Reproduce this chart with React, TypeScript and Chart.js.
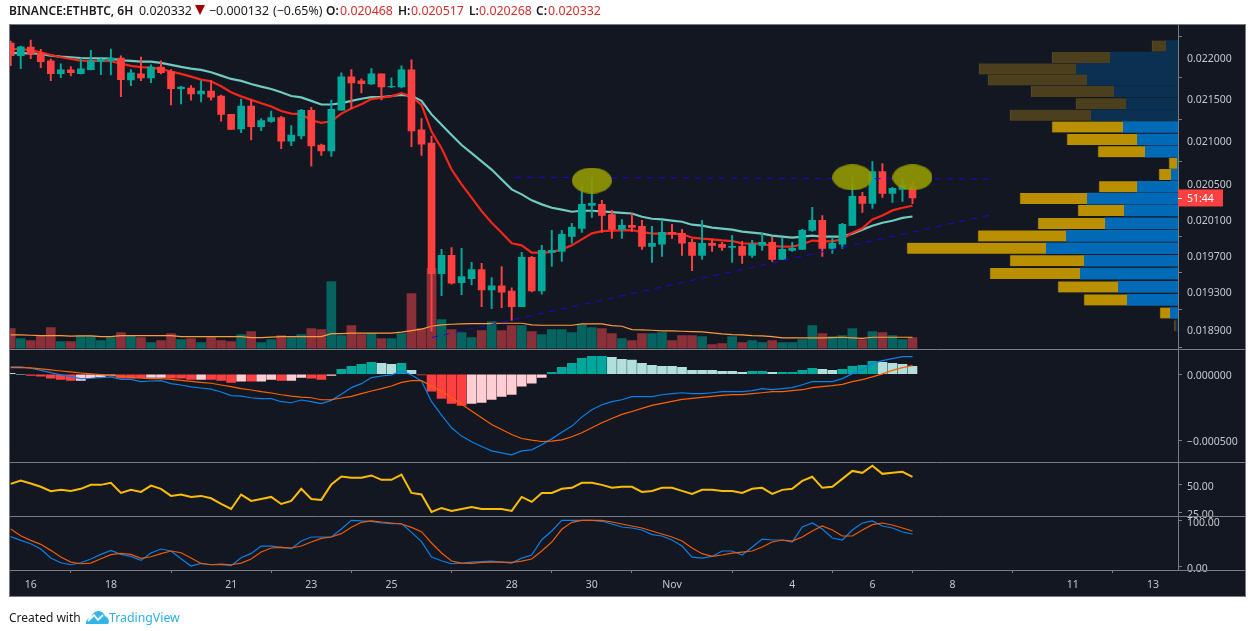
import React, { useEffect, useRef } from "react";
import { Chart, registerables } from "chart.js";
Chart.register(...registerables);

// price series in micro-BTC (1e-6 BTC)
const opens = [22171,22016,22122,22046,21952,21797,21842,21797,21845,21943,21955,21988,21720,21793,21744,21875,21821,21614,21622,21549,21586,21525,21305,21134,21403,21159,21220,21268,20989,21049,21354,20943,20875,21354,21756,21708,21671,21793,21634,21634,21842,21122,20966,19490,19689,19390,19434,19534,19312,19356,19301,19132,19667,19301,19723,19734,19900,19989,20248,20259,20145,19978,20022,20011,19789,19812,19945,19934,19834,19689,19823,19812,19778,19789,19689,19800,19834,19645,19745,19756,19967,20078,19767,19812,20022,20350,20270,20635,20384,20430,20468];
const highs = [22196,22135,22208,22094,21976,21915,21882,21985,22082,21985,22098,22016,21845,22000,21903,21952,21845,21643,21650,21708,21711,21537,21305,21488,21476,21256,21345,21281,21171,21366,21390,20954,21476,21805,21845,21732,21858,21793,21744,21891,21964,21256,21049,19756,19775,19767,19612,19601,19445,19567,19334,19723,19678,19800,19967,19967,20045,20464,20567,20305,20191,20089,20156,20078,20011,20067,20033,19978,19867,20078,19867,19834,19911,19845,19856,19934,19889,19878,19834,19978,20225,20134,19889,20045,20578,20396,20749,20726,20453,20555,20517];
const lows = [21894,21858,21980,21870,21711,21748,21769,21793,21842,21784,21781,21516,21650,21711,21687,21793,21418,21431,21476,21455,21476,21223,21126,21089,21004,21113,21211,20901,20935,21016,20696,20821,20810,21354,21374,21561,21662,21479,21626,21622,20924,20821,18873,19251,19375,19261,19367,19132,19111,19121,18985,19132,19290,19268,19567,19623,19823,19945,20111,19945,19878,19878,19956,19756,19612,19678,19878,19689,19523,19645,19734,19745,19612,19601,19667,19745,19623,19645,19734,19756,19956,19678,19712,19767,20022,20168,20213,20339,20282,20293,20268];
const closes = [22016,22126,22033,21943,21797,21842,21809,21854,21952,21972,21988,21723,21805,21744,21875,21809,21614,21634,21549,21586,21512,21305,21126,21403,21159,21232,21268,20989,21061,21354,20932,20875,21366,21756,21683,21675,21793,21634,21643,21842,21110,20954,19490,19689,19386,19456,19534,19312,19356,19289,19132,19667,19301,19745,19745,19923,20000,20259,20270,20134,19978,20022,20000,19789,19823,19945,19923,19823,19689,19823,19800,19778,19789,19689,19812,19834,19645,19756,19767,19967,20078,19767,19823,20033,20350,20270,20635,20384,20441,20475,20332];
const maFast = [22098,22098,22086,22058,22025,21997,21976,21955,21952,21952,21948,21919,21891,21875,21870,21854,21821,21793,21760,21723,21704,21643,21570,21521,21479,21439,21399,21345,21314,21309,21235,21204,21223,21314,21374,21427,21488,21504,21521,21561,21521,21418,21101,20905,20658,20487,20335,20183,20052,19941,19823,19800,19719,19719,19726,19756,19800,19867,19934,19959,19964,19967,19970,19948,19930,19930,19934,19923,19886,19875,19867,19856,19848,19823,19819,19819,19793,19786,19786,19812,19853,19848,19845,19867,19941,19989,20089,20134,20191,20221,20244];
const maSlow = [22049,22049,22046,22037,22016,22004,21997,21988,21985,21985,21980,21960,21952,21943,21943,21927,21903,21878,21858,21842,21814,21772,21732,21708,21671,21638,21610,21570,21525,21509,21467,21423,21423,21439,21467,21492,21512,21512,21525,21540,21528,21467,21305,21183,21061,20943,20848,20753,20658,20544,20430,20373,20305,20259,20221,20199,20176,20187,20187,20179,20171,20164,20156,20119,20097,20089,20075,20063,20030,20019,19997,19986,19975,19952,19941,19930,19908,19897,19886,19897,19908,19897,19897,19897,19930,19975,20019,20052,20075,20107,20122];
const volumes = [20,10,8,12.7,21,7,7,12.7,12.7,8,11,16,12.7,11,6,8,15,9,10,6,11,8,7,14,17,6,9,13,11,14,20,19,67,13,23,14,15,10,10,15,55,20,80,29,19,16,11,18,27,18,23,23,17,14,19,19,16,24,21,20,15,10,8,15,15,16,8,13,13,12,4,5,12,6,8,6,8,6,6,9,23,15,12,13,20,9,17,16,13,9,11];
const volumeMA = [13.7,13.7,13.3,13,13,13,12.5,12.7,12.7,12,12,13,13,13,13,13,13,12,12,12,12,12,12,12,11,11,11.5,12,12,12,12,12,15,15,15.5,15.5,15.5,15.5,15.5,16.5,18,19.5,22.3,23.7,24.3,24.7,25,25,25,25.3,25.3,25.3,23.7,23.3,23.3,23.3,23.3,24.7,24.7,24.7,23,22.3,19,18.7,18.3,17.7,17.7,17.3,17,16.7,15.7,14.7,14,13.7,13,12.7,12,10.7,10.7,10.7,10.7,10.7,11,11.3,10.7,10.3,11.3,11.3,11.3,11.3,11.3];
// MACD pane in 1e-6
const macdLine = [56,56,46,30,13,-5,-18,-33,-30,-25,-20,-38,-38,-56,-51,-48,-71,-81,-96,-104,-112,-134,-162,-165,-178,-185,-185,-208,-216,-195,-208,-223,-198,-152,-101,-71,-25,-13,-5,25,-5,-51,-208,-310,-406,-469,-512,-548,-581,-596,-611,-581,-573,-535,-490,-439,-393,-325,-269,-231,-208,-193,-170,-170,-170,-155,-147,-140,-147,-147,-140,-132,-132,-132,-124,-109,-117,-109,-101,-79,-56,-56,-56,-33,5,36,81,104,119,134,134];
const macdSignal = [51,51,48,41,33,25,18,10,3,-3,-10,-15,-23,-28,-33,-33,-38,-46,-53,-61,-68,-81,-94,-109,-119,-132,-142,-155,-165,-173,-178,-193,-193,-180,-167,-147,-127,-109,-89,-61,-48,-48,-89,-127,-178,-228,-279,-330,-381,-419,-457,-487,-500,-510,-507,-497,-474,-444,-406,-368,-335,-304,-282,-259,-236,-221,-205,-190,-183,-175,-167,-160,-155,-155,-147,-140,-132,-132,-124,-117,-101,-94,-86,-76,-56,-41,-20,3,30,51,66];
const macdHist = [8,0,-8,-15,-30,-38,-46,-46,-25,-20,-10,-30,-30,-28,-23,-23,-30,-30,-38,-38,-38,-46,-61,-53,-53,-53,-38,-46,-46,-23,-30,-38,-8,38,61,76,91,84,76,84,30,-5,-129,-183,-221,-236,-221,-213,-190,-167,-152,-91,-68,-23,15,53,84,122,137,137,129,114,107,84,68,61,61,53,30,30,30,23,23,15,23,23,15,15,15,30,46,38,30,38,61,68,99,91,84,76,61];
const macdTones = "LLRRRRRPPPPRRRPPRRRPRRRPRPPRPPRRPTTTTLLTLRRRRRPPPPPPPPTTTTTTLLLLLLLLLLLLLLTTLTTTTLLTTTTLLLL";
const rsiValues = [50.6,53.5,50.9,48,44.1,45.3,44.4,46.2,49.7,49.7,51.5,42.6,45.3,43.5,49.1,46.2,40,41.2,39.1,40,37.9,32.9,28.5,41.2,35.6,37.3,39.1,32.9,35.6,46.2,37.3,36.5,50,57.1,55.9,55.9,58,54.1,54.1,58.8,42.6,41.2,25.9,29.4,26.8,28.5,30.3,28.5,28.5,28.5,26.8,39.1,34.7,42.6,42.6,46.2,47.1,51.5,51.5,49.7,47.1,48,48,43.5,44.4,47.1,47.1,44.4,41.8,45.3,45.3,44.4,44.4,42.6,46.2,47.1,41.8,45.3,46.2,53.2,56.8,47.1,48,55,62,60.3,66.5,59.4,60.3,61.2,56.8];
const stochK = [64.5,56.5,49.3,37.7,18.1,8,3.6,8,16,26.1,34.8,26.1,21.7,13,29,37.7,33.4,16.7,0.7,6.5,3.6,3.6,1.5,18.9,28.3,44.2,44.2,41.3,38.4,55.1,63.8,63.8,63.8,81.2,100,98.6,97.9,94.2,92.8,92.8,73.9,53.7,20.3,12.3,5.8,7.2,9.4,10.2,11.6,9.4,7.2,18.1,24.7,58,76.8,100,100,100,100,97.9,92.1,85.5,83.4,79,68.9,66,57.3,44.2,20.3,18.1,21.7,33.4,33.4,24.7,42,59.4,57.3,57.3,52.9,85.5,94.2,81.2,61.6,57.3,79,94.2,98.6,87.7,83.4,74.7,70.3];
const stochD = [81.2,66.7,56.5,47.9,34.8,20.3,9.4,5.8,7.2,16.7,25.4,28.3,26.1,17.4,21,27.6,33.4,29.7,18.1,6.5,3.6,5,3.6,7.2,16,31.2,39.9,41.3,39.9,44.2,52.9,60.9,63.8,71,84.8,95.7,98.6,96.4,94.2,92,84.8,75.4,50.8,29,11.6,7.2,6.5,8.7,9.4,9.4,8.7,11.6,16,33.4,52.9,80.5,95.7,100,100,100,96.4,92,87.7,83.4,76.8,70.3,63.8,55.1,39.9,27.6,21.7,24.7,29,31.2,33.4,42,52.9,57.3,55.1,63.8,76.8,87.7,79,66,66,79,90.6,94.2,89.9,83.4,76.8];
// volume profile rows
const vpPrices = [22135,21994,21854,21720,21580,21433,21295,21155,21008,20865,20730,20600,20460,20325,20190,20045,19905,19768,19630,19490,19345,19205,19065,18930];
const vpUp = [12,68,102,91,64,52,87,55,41,33,1,7,41,91,54,73,112,132,94,98,60,51,8,2];
const vpTotal = [26,126,199,190,147,102,168,126,111,80,9,19,79,158,100,140,200,271,168,188,120,94,18,4];
const vpDimmed = [1,1,1,1,1,1,1,0,0,0,0,0,0,0,0,0,0,0,0,0,0,0,0,1];
// drawings
const levelLine = [{ x: 50.3, y: 20568 }, { x: 98, y: 20548 }];
const trendLine = [{ x: 42.05, y: 18806 }, { x: 98, y: 20145 }];
const ovalMarks = [{ x: 58, y: 20531 }, { x: 84, y: 20568 }, { x: 90, y: 20568 }];
// axis ticks
const priceTicks = [0.022, 0.0215, 0.021, 0.0205, 0.0201, 0.0197, 0.0193, 0.0189];
const macdTicks = [0, -0.0005];
const rsiTicks = [50, 25];
const stochTicks = [100, 0];
const dayTickIndex = [2, 10, 22, 30, 38, 50, 58, 66, 78, 86, 94, 106, 114];
const dayTickLabels = ["16", "18", "21", "23", "25", "28", "30", "Nov", "4", "6", "8", "11", "13"];
// header line
const headerItems: [number, string, string?][] = [
  [9, "BINANCE:ETHBTC, 6H", "b"], [139, "0.020332"], [209, "\u22120.000132"], [273, "(\u22120.65%)"],
  [326, "O:", "b"], [340, "0.020468", "r"], [398, "H:", "b"], [411, "0.020517", "r"],
  [469, "L:", "b"], [479, "0.020268", "r"], [536, "C:", "b"], [548, "0.020332", "r"],
];

const FONT = "'Noto Sans'";
const GRAY = "#787b80";
const BG = "#131722";
const UP = "#00a99a";
const DOWN = "#ff4040";
const U = 1e-6;
const PLOT_LEFT = 9;
const toneColor: Record<string, string> = { R: "#ff4040", P: "#ffcdd2", T: "#00a79a", L: "#b2dfdb" };

function App() {
  const ref = useRef<HTMLCanvasElement>(null);
  useEffect(() => {
    const idx = opens.map((_, i) => i);
    const up = idx.map((i) => closes[i] >= opens[i]);
    const pts = (a: number[], k = 1) => a.map((v, i) => ({ x: i, y: v * k }));
    const oval = document.createElement("canvas");
    oval.width = 40; oval.height = 26;
    const oc = oval.getContext("2d")!;
    oc.fillStyle = "rgba(148,153,0,0.9)";
    oc.beginPath(); oc.ellipse(20, 13, 20, 13, 0, 0, Math.PI * 2); oc.fill();

    const line = (data: any[], yAxisID: string, color: string, width: number, order: number, extra: any = {}) => ({
      type: "line", data, yAxisID, xAxisID: "x", borderColor: color, borderWidth: width, pointRadius: 0, tension: 0, order, ...extra,
    });
    const bar = (data: any[], yAxisID: string, color: any, thick: number, order: number, extra: any = {}) => ({
      type: "bar", data, yAxisID, xAxisID: "x", backgroundColor: color, barThickness: thick, grouped: false, order, ...extra,
    });
    const fixTicks = (list: number[]) => (s: any) => { s.ticks = list.map((value) => ({ value })); };
    const fitY = (s: any) => { s.width = 68; };
    // a blank first line with a small line height nudges the label down to the tick's centre
    const tickOpts = (fmt: (v: number) => string) => ({
      color: "#c4c6cc", font: { family: FONT, size: 10.5, lineHeight: "4.4px" }, padding: 5, autoSkip: false,
      callback: (v: number) => ["", fmt(v)], align: "center",
    });
    const gridOpts = { drawOnChartArea: false, color: GRAY, tickLength: 4, tickWidth: 1 };
    const yAxis = (extra: any) => ({
      position: "right", stack: "panes", axis: "y", border: { color: GRAY }, grid: gridOpts, afterFit: fitY, ...extra,
    });

    const chrome = {
      id: "chrome",
      afterLayout(c: any) {
        // both horizontal axes span the whole plot width
        const a = c.chartArea;
        a.left = PLOT_LEFT; a.width = a.right - a.left;
        [c.scales.x, c.scales.xVP].forEach((s: any) => {
          s.left = a.left; s.right = a.right; s.width = a.right - a.left;
          s.configure();
        });
      },
      beforeDraw(c: any) {
        const g = c.ctx, a = c.chartArea;
        g.save(); g.fillStyle = BG; g.fillRect(a.left, a.top, 1246 - a.left, c.scales.x.bottom - a.top); g.restore();
      },
      afterDraw(c: any) {
        const g = c.ctx, a = c.chartArea, s = c.scales;
        g.save();
        g.strokeStyle = GRAY; g.lineWidth = 1;
        [s.y.bottom, s.yMacd.bottom, s.yRsi.bottom, a.bottom].forEach((v: number) => {
          const y = Math.round(v) + 0.5;
          g.beginPath(); g.moveTo(a.left, y); g.lineTo(1246, y); g.stroke();
        });
        g.strokeRect(a.left + 0.5, a.top + 0.5, 1246 - a.left - 1, s.x.bottom - a.top - 1);
        const py = s.y.getPixelForValue(closes[closes.length - 1] * U);
        g.fillStyle = "#ff4040"; g.fillRect(a.right, py - 8.5, 45, 17);
        g.fillStyle = "#fff"; g.fillRect(a.right, Math.round(py), 4, 1);
        g.font = `10.5px ${FONT}`; g.textBaseline = "middle"; g.textAlign = "left";
        g.fillText("51:44", a.right + 9, py + 1);
        g.restore();
      },
    };

    const chart = new Chart(ref.current!, {
      type: "bar",
      data: {
        datasets: [
          { type: "bar", indexAxis: "y", xAxisID: "xVP", yAxisID: "y", grouped: false, barThickness: 11, order: 12,
            data: vpPrices.map((p, i) => ({ y: p * U, x: [vpUp[i], vpTotal[i]] })),
            backgroundColor: vpDimmed.map((d) => (d ? "#4b3f1e" : "#bb9000")),
            borderColor: vpDimmed.map((d) => (d ? "#5a4c20" : "#8a6d0a")), borderWidth: { left: 1, right: 0, top: 0, bottom: 0 }, borderSkipped: false },
          { type: "bar", indexAxis: "y", xAxisID: "xVP", yAxisID: "y", grouped: false, barThickness: 11, order: 12,
            data: vpPrices.map((p, i) => ({ y: p * U, x: [0, vpUp[i]] })),
            backgroundColor: vpDimmed.map((d) => (d ? "#0b3052" : "#016ab6")) },
          bar(pts(volumes), "yVol", idx.map((i) => (up[i] ? "#056360" : "#8b3038")), 9, 11),
          line(pts(volumeMA), "yVol", "#ff9a3c", 1.2, 10),
          line(pts(maSlow, U), "y", "#6fcabf", 2.2, 9),
          line(pts(maFast, U), "y", "#f4261a", 2.2, 8),
          bar(idx.map((i) => ({ x: i, y: [lows[i] * U, highs[i] * U] })), "y", idx.map((i) => (up[i] ? UP : DOWN)), 1.3, 7),
          bar(idx.map((i) => ({ x: i, y: [opens[i] * U, closes[i] * U] })), "y", idx.map((i) => (up[i] ? UP : DOWN)), 7, 6),
          line(levelLine.map((p) => ({ x: p.x, y: p.y * U })), "y", "#2a00d8", 1, 5, { borderDash: [6, 6] }),
          line(trendLine.map((p) => ({ x: p.x, y: p.y * U })), "y", "#2a00d8", 1, 5, { borderDash: [6, 6] }),
          { type: "line", showLine: false, xAxisID: "x", yAxisID: "y", order: 4, pointStyle: oval, pointRadius: 20,
            data: ovalMarks.map((p) => ({ x: p.x, y: p.y * U })) },
          bar(pts(macdHist, U), "yMacd", macdHist.map((_, i) => toneColor[macdTones[i]]), 9, 3),
          line(pts(macdSignal, U), "yMacd", "#ff6000", 1.2, 2),
          line(pts(macdLine, U), "yMacd", "#0a80e8", 1.2, 2),
          line(pts(rsiValues), "yRsi", "#fbbc05", 2, 2),
          line(pts(stochK), "yStoch", "#0a80e8", 1.2, 2),
          line(pts(stochD), "yStoch", "#f05a00", 1.2, 1),
        ] as any,
      },
      plugins: [chrome],
      options: {
        animation: false, responsive: false, devicePixelRatio: 1, events: [],
        layout: { padding: { left: PLOT_LEFT, top: 24, right: 11, bottom: 34 } },
        plugins: { legend: { display: false }, tooltip: { enabled: false } },
        scales: {
          x: { type: "linear", position: "bottom", min: -0.17, max: 116.5, offset: false,
            border: { color: GRAY }, grid: { ...gridOpts, tickLength: 3 },
            afterBuildTicks: fixTicks(dayTickIndex),
            afterFit: (s: any) => { s.height = 27; s.paddingLeft = 0; s.paddingRight = 0; },
            ticks: { color: "#c4c6cc", font: { family: FONT, size: 10.5 }, padding: 6, maxRotation: 0, autoSkip: false,
              callback: (v: number) => dayTickLabels[dayTickIndex.indexOf(v)] } },
          xVP: { type: "linear", position: "top", axis: "x", display: false, min: 0, max: 1169, reverse: true, offset: false },
          y: yAxis({ type: "logarithmic", min: 0.018689, max: 0.02241, stackWeight: 324, weight: 0,
            afterBuildTicks: fixTicks(priceTicks), ticks: tickOpts((v) => v.toFixed(6)) }),
          yMacd: yAxis({ type: "linear", min: -0.000664, max: 0.000195, stackWeight: 113, weight: 1,
            afterBuildTicks: fixTicks(macdTicks), ticks: tickOpts((v) => (v < 0 ? "\u2212" : "") + Math.abs(v).toFixed(6)) }),
          yRsi: yAxis({ type: "linear", min: 22.4, max: 70, stackWeight: 54, weight: 2,
            afterBuildTicks: fixTicks(rsiTicks), ticks: tickOpts((v) => v.toFixed(2)) }),
          yStoch: yAxis({ type: "linear", min: -7.8, max: 109.6, stackWeight: 54, weight: 3,
            afterBuildTicks: fixTicks(stochTicks), ticks: tickOpts((v) => v.toFixed(2)) }),
          yVol: { type: "linear", position: "right", axis: "y", display: false, stack: "overlay", stackWeight: 324, weight: 0, min: 0, max: 324 },
          ySpacer: { type: "linear", position: "right", axis: "y", display: false, stack: "overlay", stackWeight: 221, weight: 1, min: 0, max: 1 },
        },
      } as any,
    } as any);
    return () => chart.destroy();
  }, []);

  return (
    <div style={{ position: "fixed", left: 0, top: 0, width: 1257, height: 631, background: "#fff", overflow: "hidden", fontFamily: FONT, fontSize: 12, color: "#1a1a1a" }}>
      <canvas ref={ref} width={1257} height={631} style={{ position: "absolute", left: 0, top: 0 }} />
      {headerItems.map(([left, text, kind], i) => (
        <span key={i} style={{ position: "absolute", left, top: 2, whiteSpace: "nowrap", fontWeight: kind === "b" ? 600 : 400,
          fontSize: kind === "b" ? 12 : 12.4, color: kind === "r" ? "#d32f2f" : "#1a1a1a" }}>{text}</span>
      ))}
      <svg style={{ position: "absolute", left: 195, top: 5 }} width={10} height={10} viewBox="0 0 10 10">
        <polygon points="0,0 10,0 5,10" fill="#a00000" />
      </svg>
      <div style={{ position: "absolute", left: 9, top: 609, whiteSpace: "nowrap" }}>Created with</div>
      <svg style={{ position: "absolute", left: 85, top: 609 }} width={24} height={16} viewBox="0 0 24 16">
        <path d="M1 15 L1 13 Q2 9 6 9 Q7 3 13 2 Q18 2 20 7 Q24 9 24 13 L23 15 Z" fill="#34b5ea" />
        <path d="M3 12 L9 6 L13 11 L18 6" fill="none" stroke="#fff" strokeWidth={1.8} />
      </svg>
      <div style={{ position: "absolute", left: 109, top: 609, whiteSpace: "nowrap", color: "#2ab0e8", fontSize: 12.3 }}>TradingView</div>
    </div>
  );
}

export default App;
